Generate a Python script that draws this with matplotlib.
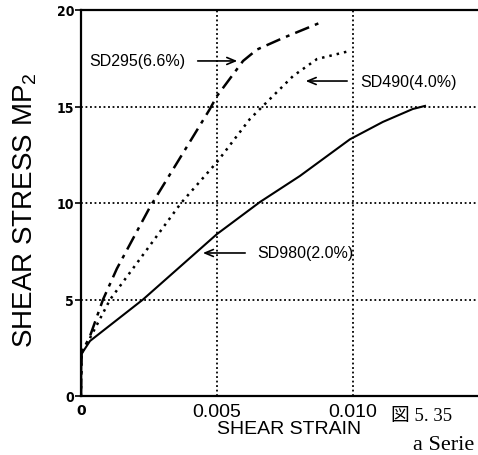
import matplotlib
matplotlib.use("Agg")
import matplotlib.pyplot as plt

# ---- data ----
sd295_x = [0.0, 0.00002, 0.00008, 0.00033, 0.00081, 0.00132, 0.00254, 0.0040, 0.00474, 0.0050, 0.00596, 0.00647, 0.00743, 0.00886]
sd295_y = [0.0, 2.18, 2.4, 3.1, 5.0, 6.6, 9.8, 13.16, 14.87, 15.54, 17.36, 17.95, 18.55, 19.38]

sd490_x = [0.0, 0.00002, 0.00008, 0.00033, 0.00107, 0.00243, 0.00368, 0.0050, 0.00621, 0.00695, 0.0078, 0.00868, 0.00989]
sd490_y = [0.0, 2.18, 2.4, 3.0, 5.0, 7.6, 10.0, 12.12, 14.35, 15.39, 16.58, 17.46, 17.88]

sd980_x = [0.0, 0.000005, 0.00002, 0.00033, 0.00228, 0.0050, 0.00658, 0.00805, 0.00989, 0.0111, 0.0122, 0.01265]
sd980_y = [0.0, 0.6, 2.18, 2.85, 5.0, 8.39, 10.05, 11.4, 13.3, 14.2, 14.87, 15.03]

labels = ["SD295(6.6%)", "SD490(4.0%)", "SD980(2.0%)"]
arrow_tips = [(0.00585, 17.36), (0.00816, 16.32), (0.00438, 7.41)]
arrow_tails = [(0.00419, 17.36), (0.00989, 16.32), (0.00614, 7.41)]
text_pos = [(0.00385, 17.36), (0.01026, 16.32), (0.00647, 7.41)]

y_ticks = [0, 5, 10, 15, 20]
x_ticks = [0, 0.005, 0.010]
x_tick_labels = ["0", "0.005", "0.010"]

W, H = 478, 456
fig = plt.figure(figsize=(W / 100, H / 100), dpi=100)
ax = fig.add_axes([81 / W, (H - 397) / H, (W - 81) / W, 386 / H])

ax.plot(sd295_x, sd295_y, color="black", lw=1.8, linestyle=(0, (6, 2.5, 1.5, 2.5)))
ax.plot(sd490_x, sd490_y, color="black", lw=1.8, linestyle=(0, (1, 2)))
ax.plot(sd980_x, sd980_y, color="black", lw=1.5, linestyle="-")

ax.set_xlim(0, 0.0146)
ax.set_ylim(0, 20)

# grid
for gx in [0.005, 0.010]:
    ax.axvline(gx, color="black", lw=1.3, linestyle=(0, (1, 1.5)), zorder=0)
for gy in [5, 10, 15]:
    ax.axhline(gy, color="black", lw=1.3, linestyle=(0, (1, 1.5)), zorder=0)

for s in ["left", "bottom", "top"]:
    ax.spines[s].set_linewidth(1.6)
ax.spines["right"].set_visible(False)

ax.set_yticks(y_ticks)
ax.set_yticklabels([str(v) for v in y_ticks], fontsize=10, fontweight="bold",
                   family="DejaVu Sans", fontstretch="condensed")
ax.tick_params(axis="y", direction="out", length=4, width=1.2, pad=1)
ax.set_xticks(x_ticks)
ax.set_xticklabels(x_tick_labels)
ax.tick_params(axis="x", direction="in", length=0, pad=5)
xl = ax.get_xticklabels()
xl[0].set_fontsize(10)
xl[0].set_fontweight("bold")
xl[0].set_family("DejaVu Sans")
for t in xl[1:]:
    t.set_fontsize(14)
    t.set_family("Liberation Sans")

for lab, tip, tail, tp in zip(labels, arrow_tips, arrow_tails, text_pos):
    ax.annotate("", xy=tip, xytext=tail,
                arrowprops=dict(arrowstyle="->,head_length=0.6,head_width=0.25", color="black", lw=1.2))
    ha = "right" if tp[0] < tail[0] else "left"
    ax.text(tp[0], tp[1], lab, ha=ha, va="center", fontsize=11.5, family="Liberation Sans")

fig.text(289 / W, 1 - 430 / H, "SHEAR STRAIN", ha="center", va="center",
         fontsize=14, family="Liberation Sans")
fig.text(25 / W, 1 - 210 / H, r"SHEAR STRESS MP$\mathregular{_2}$", ha="center", va="center",
         rotation=90, fontsize=20, family="Liberation Sans")
fig.text(391 / W, 1 - 417 / H, "図 5. 35", ha="left", va="center", fontsize=13.5,
         family=["Liberation Serif", "Noto Sans CJK JP"])
fig.text(413 / W, 1 - 446 / H, "a Serie", ha="left", va="center", fontsize=16,
         family=["Liberation Serif"])

fig.savefig("out.png", dpi=100)
